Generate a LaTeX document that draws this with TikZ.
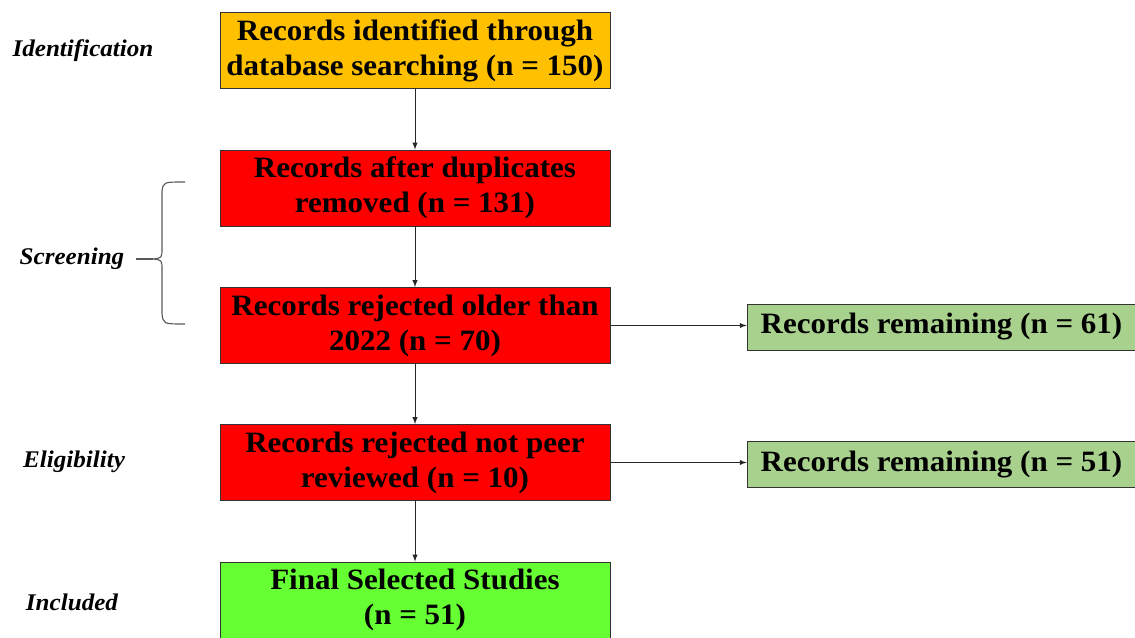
\documentclass[tikz,border=0pt]{standalone}
\usepackage{fontspec}
\setmainfont[FakeStretch=1.05]{Liberation Serif}
\usetikzlibrary{arrows, math}
\definecolor{qorange}{RGB}{255,192,0}
\definecolor{qred}{RGB}{255,0,0}
\definecolor{qgreen}{RGB}{102,255,51}
\definecolor{qsage}{RGB}{169,209,142}

\begin{document}
\begin{tikzpicture}[x=0.025cm, y=-0.025cm,
  box/.style={draw=black!80, line width=0.6pt, minimum width=9.75cm, minimum height=1.9cm,
    inner sep=0pt, align=center, font=\fontsize{21}{25}\selectfont\bfseries},
  rembox/.style={draw=black!80, line width=0.6pt, fill=qsage, minimum width=9.72cm,
    minimum height=1.15cm, inner sep=0pt, font=\fontsize{21}{25}\selectfont\bfseries},
  phase/.style={font=\fontsize{17}{20}\selectfont\bfseries\itshape},
  flow/.style={-{latex[scale=2]}, line width=0.7pt, draw=black!85}]

\tikzmath{
\bx = 415; % centre of the main column
\rx = 941.5; % centre of the side column
}

\useasboundingbox (0,0) rectangle (1135,637);

%main column:
\node[box, fill=qorange] (ident) at (\bx,50.5) {Records identified through\\database searching (n = 150)};
\node[box, fill=qred] (dupl) at (\bx,188) {Records after duplicates\\removed (n = 131)};
\node[box, fill=qred] (older) at (\bx,325.5) {Records rejected older than\\2022 (n = 70)};
\node[box, fill=qred] (peer) at (\bx,462.5) {Records rejected not peer\\reviewed (n = 10)};
\node[box, fill=qgreen] (final) at (\bx,600) {Final Selected Studies\\(n = 51)};

%side column:
\node[rembox] (rem1) at (\rx,327) {Records remaining (n = 61)};
\node[rembox] (rem2) at (\rx,464.5) {Records remaining (n = 51)};

%phases:
\node[phase] (pid) at (83,51) {Identification};
\node[phase] (pscr) at (72,259) {Screening};
\node[phase] (pelig) at (74,462) {Eligibility};
\node[phase] (pincl) at (72,602) {Included};

%arrows:
\draw[flow] (ident) -- (dupl);
\draw[flow] (dupl) -- (older);
\draw[flow] (older) -- (peer);
\draw[flow] (peer) -- (final);
\draw[flow] (older.east) -- (older.east -| rem1.west);
\draw[flow] (peer.east) -- (peer.east -| rem2.west);

%brace for screening
\coordinate (btip) at (153,259);
\coordinate (bend) at (136,259);
\draw[black!65, line width=0.8pt] (185,182) .. controls (163,182) .. (162,192) -- (162,248)
  .. controls (162,258) .. (btip) .. controls (162,260) .. (162,270) -- (162,313)
  .. controls (163,324) .. (185,324);
\draw[black!65, line width=0.8pt] (bend) -- (btip);

\end{tikzpicture}
\end{document}
